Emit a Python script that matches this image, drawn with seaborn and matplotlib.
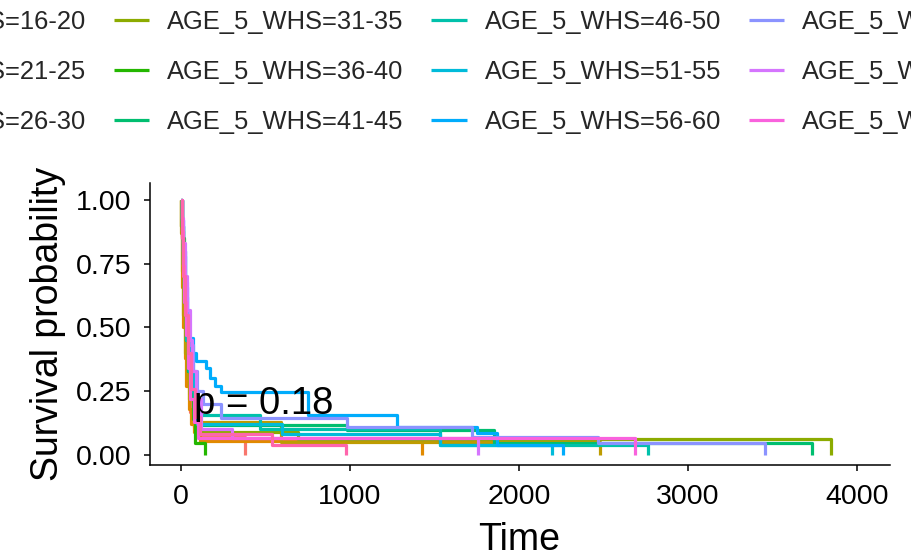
import matplotlib
matplotlib.use("Agg")
import matplotlib.pyplot as plt
from matplotlib.lines import Line2D
import seaborn as sns
import pandas as pd

# Strata and their ggplot-style hue colours
strata = [
    "AGE_5_WHS=16-20", "AGE_5_WHS=21-25", "AGE_5_WHS=26-30",
    "AGE_5_WHS=31-35", "AGE_5_WHS=36-40", "AGE_5_WHS=41-45",
    "AGE_5_WHS=46-50", "AGE_5_WHS=51-55", "AGE_5_WHS=56-60",
    "AGE_5_WHS=61-65", "AGE_5_WHS=66-70", "AGE_5_WHS=71-75",
    "AGE_5_WHS=76-80",
]
colors = [
    "#F8766D", "#E18A00", "#BE9C00", "#8CAB00", "#24B700", "#00BE70",
    "#00C1AB", "#00BBDA", "#00ACFC", "#8B93FF", "#D575FE", "#F962DD",
    "#FF65AC",
]

# Kaplan-Meier step points (time in days, survival probability)
time_16_20 = [0, 4, 10, 18, 28, 40, 55, 75, 100, 380]
surv_16_20 = [1.0, 0.86, 0.70, 0.55, 0.40, 0.27, 0.17, 0.11, 0.07, 0.0]

time_21_25 = [0, 3, 8, 14, 22, 32, 45, 60, 80, 110, 1425]
surv_21_25 = [1.0, 0.90, 0.66, 0.50, 0.38, 0.27, 0.18, 0.12, 0.09, 0.055, 0.0]

time_26_30 = [0, 2, 8, 15, 25, 35, 50, 70, 95, 590, 2480]
surv_26_30 = [1.0, 0.87, 0.72, 0.55, 0.40, 0.30, 0.22, 0.17, 0.13, 0.05, 0.0]

time_31_35 = [0, 3, 10, 18, 28, 40, 55, 75, 100, 690, 3846]
surv_31_35 = [1.0, 0.90, 0.75, 0.62, 0.50, 0.38, 0.27, 0.17, 0.09, 0.063, 0.0]

time_36_40 = [0, 8, 20, 30, 41, 55, 71, 83, 142]
surv_36_40 = [1.0, 0.85, 0.65, 0.45, 0.33, 0.24, 0.14, 0.047, 0.0]

time_41_45 = [0, 5, 12, 20, 30, 42, 58, 75, 100, 980, 1850, 3734]
surv_41_45 = [1.0, 0.88, 0.75, 0.60, 0.45, 0.33, 0.23, 0.16, 0.118, 0.098, 0.047, 0.0]

time_46_50 = [0, 5, 12, 20, 30, 45, 60, 80, 470, 1530, 2763]
surv_46_50 = [1.0, 0.90, 0.75, 0.60, 0.45, 0.33, 0.25, 0.157, 0.10, 0.04, 0.0]

time_51_55 = [0, 5, 12, 22, 35, 50, 70, 95, 600, 1530, 2195]
surv_51_55 = [1.0, 0.90, 0.78, 0.62, 0.48, 0.36, 0.26, 0.12, 0.08, 0.04, 0.0]

time_56_60 = [0, 5, 12, 22, 35, 50, 70, 90, 150, 170, 200, 240, 750, 1280, 1750, 1870, 2260]
surv_56_60 = [1.0, 0.92, 0.80, 0.66, 0.55, 0.46, 0.40, 0.37, 0.34, 0.30, 0.27, 0.245,
              0.155, 0.11, 0.086, 0.04, 0.0]

time_61_65 = [0, 5, 12, 22, 35, 50, 70, 95, 130, 240, 980, 1720, 2470, 3455]
surv_61_65 = [1.0, 0.92, 0.80, 0.68, 0.55, 0.43, 0.33, 0.25, 0.20, 0.145, 0.11, 0.07, 0.047, 0.0]

time_66_70 = [0, 6, 15, 25, 38, 52, 68, 90, 120, 300, 1757]
surv_66_70 = [1.0, 0.93, 0.83, 0.70, 0.57, 0.45, 0.33, 0.22, 0.10, 0.067, 0.0]

time_71_75 = [0, 4, 10, 18, 28, 40, 55, 75, 100, 2686]
surv_71_75 = [1.0, 0.88, 0.74, 0.60, 0.47, 0.34, 0.22, 0.13, 0.067, 0.0]

time_76_80 = [0, 6, 14, 25, 40, 60, 85, 110, 540, 975]
surv_76_80 = [1.0, 0.85, 0.70, 0.55, 0.40, 0.26, 0.15, 0.08, 0.04, 0.0]

curves = [
    (time_16_20, surv_16_20), (time_21_25, surv_21_25), (time_26_30, surv_26_30),
    (time_31_35, surv_31_35), (time_36_40, surv_36_40), (time_41_45, surv_41_45),
    (time_46_50, surv_46_50), (time_51_55, surv_51_55), (time_56_60, surv_56_60),
    (time_61_65, surv_61_65), (time_66_70, surv_66_70), (time_71_75, surv_71_75),
    (time_76_80, surv_76_80),
]

p_value_text = "p = 0.18"

records = []
for name, (t, s) in zip(strata, curves):
    for ti, si in zip(t, s):
        records.append({"strata": name, "time": ti, "surv": si})
df = pd.DataFrame(records)

sns.set_theme(style="white")
plt.rcParams["font.family"] = ["Liberation Sans", "DejaVu Sans"]

W, H = 911, 555
fig = plt.figure(figsize=(W / 100, H / 100), dpi=100)
fig.patch.set_facecolor("white")

# panel: left spine at x=150px, bottom spine at y=465px, top at y=183px
ax = fig.add_axes([150 / W, (H - 465) / H, 740 / W, 282 / H])

sns.lineplot(
    data=df, x="time", y="surv", hue="strata", hue_order=strata,
    palette=colors, estimator=None, sort=False, drawstyle="steps-post",
    linewidth=2.3, legend=False, ax=ax,
    solid_capstyle="butt", solid_joinstyle="round",
)

ax.set_xlim(-183, 4195)
ax.set_ylim(-0.04, 1.067)
ax.set_xticks([0, 1000, 2000, 3000, 4000])
ax.set_xticklabels(["0", "1000", "2000", "3000", "4000"])
ax.set_yticks([0, 0.25, 0.5, 0.75, 1.0])
ax.set_yticklabels(["0.00", "0.25", "0.50", "0.75", "1.00"])

for side in ["top", "right"]:
    ax.spines[side].set_visible(False)
for side in ["left", "bottom"]:
    ax.spines[side].set_color("black")
    ax.spines[side].set_linewidth(1.1)

ax.tick_params(axis="both", which="major", direction="out", length=4.5,
               width=1.1, color="black", labelsize=20.5, labelcolor="black",
               pad=9, left=True, bottom=True)

ax.set_xlabel("Time", fontsize=27, color="black")
ax.set_ylabel("Survival probability", fontsize=27, color="black")
ax.xaxis.set_label_coords((519 - 150) / 740, (465 - 522) / 282)
ax.yaxis.set_label_coords((66 - 150) / 740, 0.5)

ax.text(77, 0.2, p_value_text, fontsize=27.5, ha="left", va="center", color="black")

# legend: 3 rows, filled column by column
handles = [Line2D([], [], color=c, lw=2.3, solid_capstyle="butt") for c in colors]
col_pitch = 317.5
first_col_x = -204
for col in range(5):
    idx = list(range(col * 3, min(col * 3 + 3, len(strata))))
    fig.legend(
        [handles[i] for i in idx], [strata[i] for i in idx],
        loc="upper left",
        bbox_to_anchor=((first_col_x + col * col_pitch) / W, (H - 10) / H),
        frameon=False, fontsize=18.4, handlelength=36 / 25.6,
        handletextpad=18 / 25.6, labelspacing=1.02, borderpad=0,
        borderaxespad=0,
    )

fig.savefig("out.png", dpi=100, facecolor="white")
